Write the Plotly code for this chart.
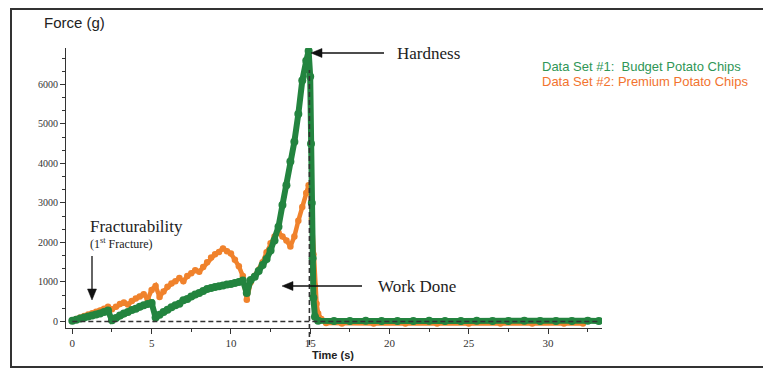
import plotly.graph_objects as go

# ---------------- data ----------------
green_t = [0.00, 0.25, 0.50, 0.75, 1.00, 1.25, 1.50, 1.75, 2.00, 2.25, 2.50, 2.75,
           3.00, 3.25, 3.50, 3.75, 4.00, 4.25, 4.50, 4.75, 5.00, 5.25, 5.50, 5.75,
           6.00, 6.25, 6.50, 6.75, 7.00, 7.25, 7.50, 7.75, 8.00, 8.25, 8.50, 8.75,
           9.00, 9.25, 9.50, 9.75, 10.00, 10.25, 10.50, 10.75, 11.00, 11.25, 11.50, 11.75,
           12.00, 12.25, 12.50, 12.75, 13.00, 13.25, 13.50, 13.75, 14.00, 14.25, 14.50, 14.75,
           14.90, 15.00, 15.05, 15.10, 15.15, 15.20, 15.30, 15.50,
           16.5, 17.5, 18.5, 19.5, 20.5, 21.5, 22.5, 23.5, 24.5, 25.5, 26.5, 27.5,
           28.5, 29.5, 30.5, 31.5, 32.5, 33.2]
green_f = [20, 45, 75, 100, 125, 150, 175, 205, 240, 275, 30, 90,
           150, 200, 240, 290, 320, 370, 410, 440, 470, 100, 170, 240,
           300, 360, 410, 450, 540, 570, 630, 680, 720, 770, 820, 850,
           870, 890, 910, 935, 950, 975, 1000, 1040, 720, 1050, 1130, 1280,
           1430, 1580, 1800, 2050, 2400, 2950, 3450, 4050, 4550, 5250, 6100, 6600,
           6850, 6200, 4500, 3000, 1600, 600, 120, 20,
           15, 10, 20, 15, 10, 15, 20, 10, 15, 20, 10, 15,
           20, 15, 10, 15, 20, 15]

orange_t = [0.00, 0.25, 0.50, 0.75, 1.00, 1.25, 1.50, 1.75, 2.00, 2.25, 2.50, 2.75,
            3.00, 3.25, 3.50, 3.75, 4.00, 4.25, 4.50, 4.75, 5.00, 5.25, 5.50, 5.75,
            6.00, 6.25, 6.50, 6.75, 7.00, 7.25, 7.50, 7.75, 8.00, 8.25, 8.50, 8.75,
            9.00, 9.25, 9.50, 9.75, 10.00, 10.25, 10.50, 10.75, 11.00, 11.25, 11.50, 11.75,
            12.00, 12.25, 12.50, 12.75, 13.00, 13.25, 13.50, 13.75, 14.00, 14.25, 14.50, 14.75,
            14.90, 15.00, 15.10, 15.20, 15.30, 15.40, 15.50, 15.70, 16.00,
            17.0, 19.0, 21.0, 23.0, 25.0, 27.0, 29.0, 31.0, 32.2]
orange_f = [20, 60, 100, 140, 175, 210, 245, 280, 320, 370, 310, 370,
            440, 480, 430, 520, 580, 630, 690, 560, 800, 900, 620, 760,
            880, 960, 1020, 1100, 1020, 1150, 1220, 1300, 1260, 1380, 1500, 1620,
            1700, 1760, 1850, 1780, 1720, 1560, 1400, 1150, 550, 1000, 1150, 1300,
            1500, 1750, 1980, 2150, 2250, 2150, 2050, 1900, 2150, 2550, 2900, 3250,
            3450, 3400, 2600, 1700, 900, 450, 200, 60, -40,
            -50, -50, -50, -50, -50, -50, -50, -50, -50]

baseline_t = [0, 33.2]
baseline_f = [0, 0]
peak_line_t = 14.95

x_tick_vals = [0, 5, 10, 15, 20, 25, 30]
y_tick_vals = [0, 1000, 2000, 3000, 4000, 5000, 6000]

# ---------------- layout helpers ----------------
# the page body has an 8 px margin; all positions below are in page pixels
OFF = 8
W, H = 771 - OFF, 369 - OFF
L, R, T, B = 66, 602, 48, 328  # plot area in page pixels


def px(x):
    return (x - L) / (R - L)


def py(y):
    return (B - y) / (B - T)


GREEN = "#23843f"
ORANGE = "#f0822c"
SERIF = "Liberation Serif, Times New Roman, serif"
SANS = "Liberation Sans, Arial, sans-serif"
INK = "#111111"

fig = go.Figure()

fig.add_trace(go.Scatter(
    x=orange_t, y=orange_f, mode="lines+markers",
    line=dict(color=ORANGE, width=4.5),
    marker=dict(color=ORANGE, size=6.5),
    showlegend=False, hoverinfo="skip"))

fig.add_trace(go.Scatter(
    x=green_t, y=green_f, mode="lines+markers",
    line=dict(color=GREEN, width=6),
    marker=dict(color=GREEN, size=8),
    showlegend=False, hoverinfo="skip"))

fig.add_trace(go.Scatter(
    x=baseline_t, y=baseline_f, mode="lines",
    line=dict(color="#333333", width=1.6, dash="5px,3px"),
    showlegend=False, hoverinfo="skip"))


def hline_arrow(hx, tx, y):
    # line + filled triangle pointing left at hx
    return [
        dict(type="line", xref="paper", yref="paper", x0=px(hx + 8), x1=px(tx),
             y0=py(y), y1=py(y), line=dict(color=INK, width=1.3)),
        dict(type="path", xref="paper", yref="paper",
             path=f"M {px(hx)} {py(y)} L {px(hx + 11)} {py(y - 4.5)} L {px(hx + 11)} {py(y + 4.5)} Z",
             fillcolor=INK, line=dict(color=INK, width=0.5)),
    ]


def vline_arrow(x, ty, hy):
    return [
        dict(type="line", xref="paper", yref="paper", x0=px(x), x1=px(x),
             y0=py(ty), y1=py(hy - 8), line=dict(color=INK, width=1.3)),
        dict(type="path", xref="paper", yref="paper",
             path=f"M {px(x)} {py(hy)} L {px(x - 4.5)} {py(hy - 11)} L {px(x + 4.5)} {py(hy - 11)} Z",
             fillcolor=INK, line=dict(color=INK, width=0.5)),
    ]


shapes = [
    # vertical dashed line at peak (runs slightly below the axis)
    dict(type="line", xref="x", yref="paper", x0=peak_line_t, x1=peak_line_t,
         y0=py(345), y1=py(70), line=dict(color="#333333", width=1.6, dash="5px,3px")),
    # outer frame
    dict(type="rect", xref="paper", yref="paper", x0=px(11), x1=px(767),
         y0=py(367), y1=py(9), line=dict(color="#333333", width=2)),
]
shapes += hline_arrow(311, 384, 53)
shapes += hline_arrow(282, 362, 286)
shapes += vline_arrow(92, 256, 300)

annotations = [
    dict(text="Force (g)", x=px(42), y=py(22), xanchor="left", yanchor="middle",
         font=dict(family=SANS, size=15, color="#222222")),
    dict(text="<b>Time (s)</b>", x=px(333), y=py(355), xanchor="center", yanchor="middle",
         font=dict(family=SANS, size=11, color="#222222")),
    dict(text="Data Set #1:  Budget Potato Chips", x=px(540), y=py(67),
         xanchor="left", yanchor="middle",
         font=dict(family=SANS, size=13, color="#2f9656")),
    dict(text="Data Set #2: Premium Potato Chips", x=px(540), y=py(81),
         xanchor="left", yanchor="middle",
         font=dict(family=SANS, size=13, color="#f2732e")),
    dict(text="Hardness", x=px(395), y=py(53), xanchor="left", yanchor="middle",
         font=dict(family=SERIF, size=17, color="#222222")),
    dict(text="Work Done", x=px(376), y=py(286), xanchor="left", yanchor="middle",
         font=dict(family=SERIF, size=17, color="#222222")),
    dict(text="Fracturability", x=px(88), y=py(226), xanchor="left", yanchor="middle",
         font=dict(family=SERIF, size=17, color="#222222")),
    dict(text="(1<sup>st</sup> Fracture)", x=px(88), y=py(243), xanchor="left", yanchor="middle",
         font=dict(family=SERIF, size=12, color="#222222")),
]
for a in annotations:
    a["xref"] = "paper"
    a["yref"] = "paper"
    a["showarrow"] = False

fig.update_layout(
    width=W, height=H,
    margin=dict(l=L - OFF, r=W - (R - OFF), t=T - OFF, b=H - (B - OFF), pad=0),
    paper_bgcolor="white", plot_bgcolor="white",
    shapes=shapes, annotations=annotations,
    xaxis=dict(range=[-0.4, 33.4], tickvals=x_tick_vals, showgrid=False, zeroline=False,
               showline=True, linecolor="#333333", linewidth=1.2,
               ticks="outside", ticklen=5, tickcolor="#333333", tickwidth=1.2,
               minor=dict(dtick=2.5, tick0=0, ticks="outside", ticklen=3, tickcolor="#333333"),
               tickfont=dict(family=SERIF, size=11, color="#333333")),
    yaxis=dict(range=[-165, 6924], tickvals=y_tick_vals, showgrid=False, zeroline=False,
               showline=True, linecolor="#333333", linewidth=1.2,
               ticks="outside", ticklen=5, tickcolor="#333333", tickwidth=1.2,
               minor=dict(dtick=1000 / 3, tick0=0, ticks="outside", ticklen=3, tickcolor="#333333"),
               tickfont=dict(family=SERIF, size=10, color="#333333")),
)

fig.write_html("out.html")
